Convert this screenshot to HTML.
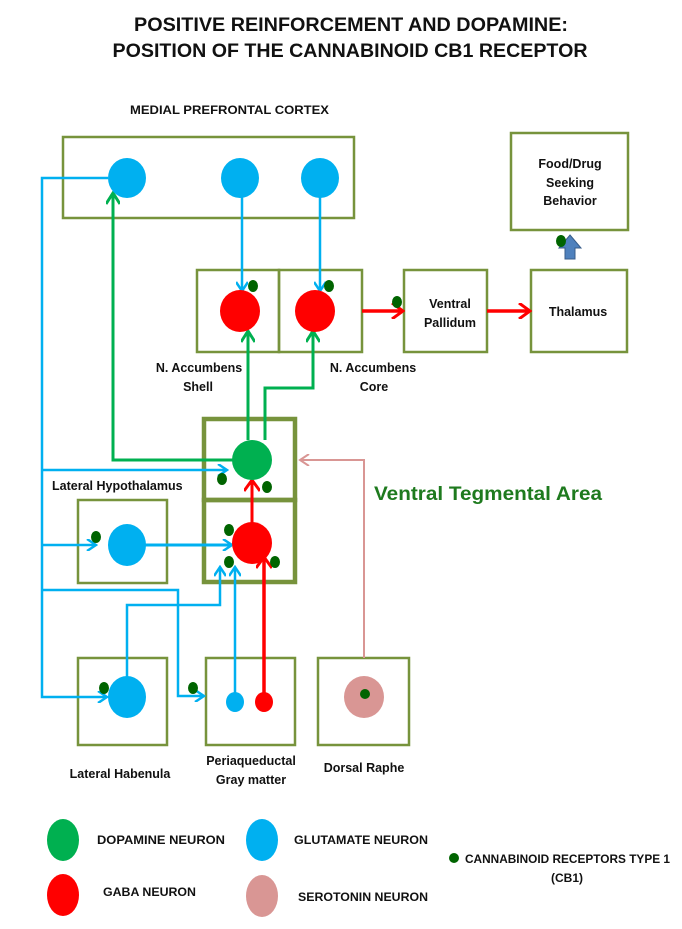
<!DOCTYPE html>
<html><head><meta charset="utf-8"><style>
html,body{margin:0;padding:0;background:#fff;}
svg{display:block;}
text{font-family:"Liberation Sans",sans-serif;font-weight:bold;fill:#111;}
</style></head><body>
<svg width="682" height="929" viewBox="0 0 682 929" xmlns="http://www.w3.org/2000/svg">
<defs>
<marker id="ab" markerWidth="12" markerHeight="12" refX="9" refY="6" orient="auto" markerUnits="userSpaceOnUse"><path d="M1,0 L10,6 L1,12" fill="none" stroke="#00b0f0" stroke-width="2.5"/></marker>
<marker id="ag" markerWidth="14" markerHeight="14" refX="11" refY="7" orient="auto" markerUnits="userSpaceOnUse"><path d="M1,0 L12,7 L1,14" fill="none" stroke="#00b050" stroke-width="3"/></marker>
<marker id="ar" markerWidth="14" markerHeight="16" refX="11" refY="8" orient="auto" markerUnits="userSpaceOnUse"><path d="M1,0 L12,8 L1,16" fill="none" stroke="#ff0000" stroke-width="3"/></marker>
<marker id="ap" markerWidth="12" markerHeight="12" refX="9" refY="6" orient="auto" markerUnits="userSpaceOnUse"><path d="M1,0 L10,6 L1,12" fill="none" stroke="#d99694" stroke-width="2"/></marker>
</defs>

<text x="351" y="31" font-size="19" text-anchor="middle" textLength="434" lengthAdjust="spacingAndGlyphs">POSITIVE REINFORCEMENT AND DOPAMINE:</text>
<text x="350" y="57" font-size="19" text-anchor="middle" textLength="475" lengthAdjust="spacingAndGlyphs">POSITION OF THE CANNABINOID CB1 RECEPTOR</text>
<text x="130" y="114" font-size="12" textLength="199" lengthAdjust="spacingAndGlyphs">MEDIAL PREFRONTAL CORTEX</text>

<g fill="none" stroke="#77933c" stroke-width="2.5">
<rect x="63" y="137" width="291" height="81"/>
<rect x="511" y="133" width="117" height="97"/>
<rect x="197" y="270" width="82" height="82"/>
<rect x="279" y="270" width="83" height="82"/>
<rect x="404" y="270" width="83" height="82"/>
<rect x="531" y="270" width="96" height="82"/>
<rect x="78" y="500" width="89" height="83"/>
<rect x="78" y="658" width="89" height="87"/>
<rect x="206" y="658" width="89" height="87"/>
<rect x="318" y="658" width="91" height="87"/>
</g>
<g fill="none" stroke="#77933c" stroke-width="4.5">
<rect x="204" y="419" width="91" height="81"/>
<rect x="204" y="500" width="91" height="82"/>
</g>

<g fill="none" stroke-width="2.5" stroke="#00b0f0">
<polyline points="108,178 42,178 42,697 106,697" marker-end="url(#ab)"/>
<polyline points="42,470 226,470" marker-end="url(#ab)"/>
<polyline points="42,545 95,545" marker-end="url(#ab)"/>
<polyline points="42,590 178,590 178,696 203,696" marker-end="url(#ab)"/>
<polyline points="127,680 127,605 220,605 220,568" marker-end="url(#ab)"/>
<polyline points="145,545 231,545" marker-end="url(#ab)" stroke-width="3"/>
<polyline points="235,695 235,568" marker-end="url(#ab)"/>
<polyline points="242,195 242,290" marker-end="url(#ab)"/>
<polyline points="320,195 320,290" marker-end="url(#ab)"/>
</g>
<g fill="none" stroke-width="3" stroke="#00b050">
<polyline points="235,460 113,460 113,194" marker-end="url(#ag)"/>
<polyline points="248,440 248,332" marker-end="url(#ag)"/>
<polyline points="265,440 265,388 313,388 313,332" marker-end="url(#ag)"/>
</g>
<g fill="none" stroke-width="3" stroke="#ff0000">
<polyline points="252,523 252,481" marker-end="url(#ar)"/>
<polyline points="264,693 264,558" marker-end="url(#ar)" stroke-width="3.5"/>
<polyline points="362,311 402,311" marker-end="url(#ar)" stroke-width="3.5"/>
<polyline points="487,311 529,311" marker-end="url(#ar)" stroke-width="3.5"/>
</g>
<polyline points="364,658 364,460 301,460" fill="none" stroke="#d99694" stroke-width="2" marker-end="url(#ap)"/>

<g fill="#00b0f0">
<ellipse cx="127" cy="178" rx="19" ry="20"/>
<ellipse cx="240" cy="178" rx="19" ry="20"/>
<ellipse cx="320" cy="178" rx="19" ry="20"/>
<ellipse cx="127" cy="545" rx="19" ry="21"/>
<ellipse cx="127" cy="697" rx="19" ry="21"/>
<ellipse cx="235" cy="702" rx="9" ry="10"/>
</g>
<g fill="#ff0000">
<ellipse cx="240" cy="311" rx="20" ry="21"/>
<ellipse cx="315" cy="311" rx="20" ry="21"/>
<ellipse cx="252" cy="543" rx="20" ry="21"/>
<ellipse cx="264" cy="702" rx="9" ry="10"/>
</g>
<ellipse cx="252" cy="460" rx="20" ry="20" fill="#00b050"/>
<ellipse cx="364" cy="697" rx="20" ry="21" fill="#d99694"/>

<path d="M570,235 L581,248 L575,248 L575,259 L565,259 L565,248 L559,248 Z" fill="#4f81bd" stroke="#385d8a" stroke-width="1"/>

<g fill="#006400">
<ellipse cx="253" cy="286" rx="5" ry="6"/>
<ellipse cx="329" cy="286" rx="5" ry="6"/>
<ellipse cx="397" cy="302" rx="5" ry="6"/>
<ellipse cx="561" cy="241" rx="5" ry="6"/>
<ellipse cx="222" cy="479" rx="5" ry="6"/>
<ellipse cx="267" cy="487" rx="5" ry="6"/>
<ellipse cx="229" cy="530" rx="5" ry="6"/>
<ellipse cx="229" cy="562" rx="5" ry="6"/>
<ellipse cx="275" cy="562" rx="5" ry="6"/>
<ellipse cx="96" cy="537" rx="5" ry="6"/>
<ellipse cx="104" cy="688" rx="5" ry="6"/>
<ellipse cx="193" cy="688" rx="5" ry="6"/>
<ellipse cx="365" cy="694" rx="5" ry="5"/>
<ellipse cx="454" cy="858" rx="5" ry="5"/>
</g>

<g font-size="12.5" text-anchor="middle">
<text x="570" y="168">Food/Drug</text>
<text x="570" y="187">Seeking</text>
<text x="570" y="205">Behavior</text>
<text x="450" y="308">Ventral</text>
<text x="450" y="327">Pallidum</text>
<text x="578" y="316">Thalamus</text>
<text x="199" y="372">N. Accumbens</text>
<text x="198" y="391">Shell</text>
<text x="373" y="372">N. Accumbens</text>
<text x="374" y="391">Core</text>
<text x="251" y="765">Periaqueductal</text>
<text x="251" y="784">Gray matter</text>
<text x="364" y="772">Dorsal Raphe</text>
<text x="120" y="778">Lateral Habenula</text>
</g>
<text x="52" y="490" font-size="12.5">Lateral Hypothalamus</text>
<text x="374" y="500" font-size="19" style="fill:#1e7a1e" textLength="228" lengthAdjust="spacingAndGlyphs">Ventral Tegmental Area</text>

<ellipse cx="63" cy="840" rx="16" ry="21" fill="#00b050"/>
<ellipse cx="262" cy="840" rx="16" ry="21" fill="#00b0f0"/>
<ellipse cx="63" cy="895" rx="16" ry="21" fill="#ff0000"/>
<ellipse cx="262" cy="896" rx="16" ry="21" fill="#d99694"/>
<g font-size="12">
<text x="97" y="844" textLength="128" lengthAdjust="spacingAndGlyphs">DOPAMINE NEURON</text>
<text x="294" y="844" textLength="134" lengthAdjust="spacingAndGlyphs">GLUTAMATE NEURON</text>
<text x="103" y="896" textLength="93" lengthAdjust="spacingAndGlyphs">GABA NEURON</text>
<text x="298" y="901" textLength="130" lengthAdjust="spacingAndGlyphs">SEROTONIN NEURON</text>
<text x="465" y="863" textLength="205" lengthAdjust="spacingAndGlyphs">CANNABINOID RECEPTORS TYPE 1</text>
<text x="567" y="882" text-anchor="middle">(CB1)</text>
</g>
</svg>
</body></html>
